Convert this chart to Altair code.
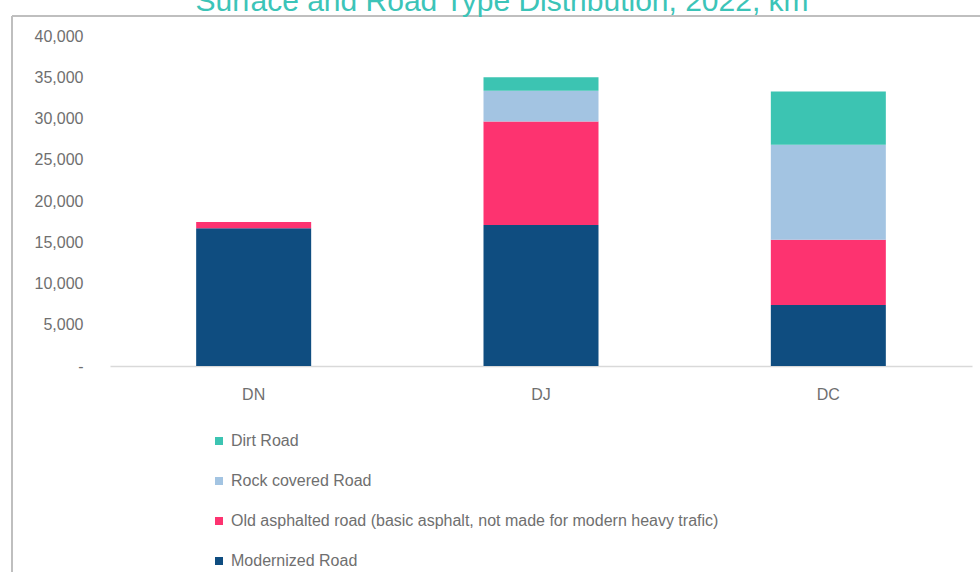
import altair as alt
import pandas as pd

# Road network length by road class and surface type, 2022 (km)
road_classes = ["DN", "DJ", "DC"]
surface_types = [
    "Dirt Road",
    "Rock covered Road",
    "Old asphalted road (basic asphalt, not made for modern heavy trafic)",
    "Modernized Road",
]
modernized_km = [16700, 17100, 7400]
old_asphalt_km = [750, 12550, 7900]
rock_km = [0, 3700, 11530]
dirt_km = [0, 1650, 6430]
surface_colors = ["#3cc4b2", "#a3c4e2", "#fd3370", "#0f4d80"]

title_text = "Surface and Road Type Distribution, 2022, km"

series = {
    "Modernized Road": modernized_km,
    "Old asphalted road (basic asphalt, not made for modern heavy trafic)": old_asphalt_km,
    "Rock covered Road": rock_km,
    "Dirt Road": dirt_km,
}
rows = []
for rank, (surface, values) in enumerate(series.items()):
    for cls, v in zip(road_classes, values):
        rows.append({"cls": cls, "surface": surface, "km": v, "rank": rank})
df = pd.DataFrame(rows)

FONT = "Liberation Sans"
GRAY = "#6f6f6f"

bars = alt.Chart(df).mark_bar(size=115).encode(
    x=alt.X(
        "cls:N",
        sort=road_classes,
        title=None,
        scale=alt.Scale(paddingInner=0, paddingOuter=0),
        axis=alt.Axis(
            labelAngle=0,
            labelFont=FONT,
            labelFontSize=16,
            labelColor=GRAY,
            labelPadding=20,
            ticks=False,
            domainColor="#d9d9d9",
            domainWidth=1.5,
        ),
    ),
    y=alt.Y(
        "km:Q",
        stack="zero",
        title=None,
        scale=alt.Scale(domain=[0, 40000], nice=False),
        axis=alt.Axis(
            values=list(range(0, 40001, 5000)),
            labelExpr="datum.value == 0 ? '-' : format(datum.value, ',')",
            labelFont=FONT,
            labelFontSize=16,
            labelColor=GRAY,
            labelPadding=27,
            ticks=False,
            domain=False,
            grid=False,
        ),
    ),
    color=alt.Color(
        "surface:N",
        scale=alt.Scale(domain=surface_types, range=surface_colors),
        legend=alt.Legend(
            title=None,
            orient="none",
            legendX=101,
            legendY=397,
            direction="vertical",
            symbolType="square",
            symbolSize=64,
            symbolStrokeWidth=0,
            labelFont=FONT,
            labelFontSize=16,
            labelColor=GRAY,
            labelLimit=800,
            rowPadding=24,
        ),
    ),
    order=alt.Order("rank:Q"),
)

title = alt.Chart(alt.InlineData(values=[{"t": title_text}])).mark_text(
    font=FONT, fontSize=30, color="#3cc4b8", align="center", baseline="alphabetic"
).encode(text="t:N", x=alt.value(392), y=alt.value(-25))

frame_top = alt.Chart(alt.InlineData(values=[{"a": 1}])).mark_rule(
    color="#bfbfbf", strokeWidth=2
).encode(x=alt.value(-98), x2=alt.value(870), y=alt.value(-20))

frame_left = alt.Chart(alt.InlineData(values=[{"a": 1}])).mark_rule(
    color="#bfbfbf", strokeWidth=2
).encode(x=alt.value(-98), y=alt.value(-20), y2=alt.value(540))

chart = (
    alt.layer(frame_top, frame_left, title, bars)
    .properties(
        width=862,
        height=330,
        background="white",
        autosize=alt.AutoSizeParams(type="none"),
        padding={"left": 110, "top": 36, "right": 8, "bottom": 206},
    )
    .configure_view(stroke="transparent", strokeWidth=0)
)

chart.save("out.html", embed_options={"renderer": "svg", "actions": False})
